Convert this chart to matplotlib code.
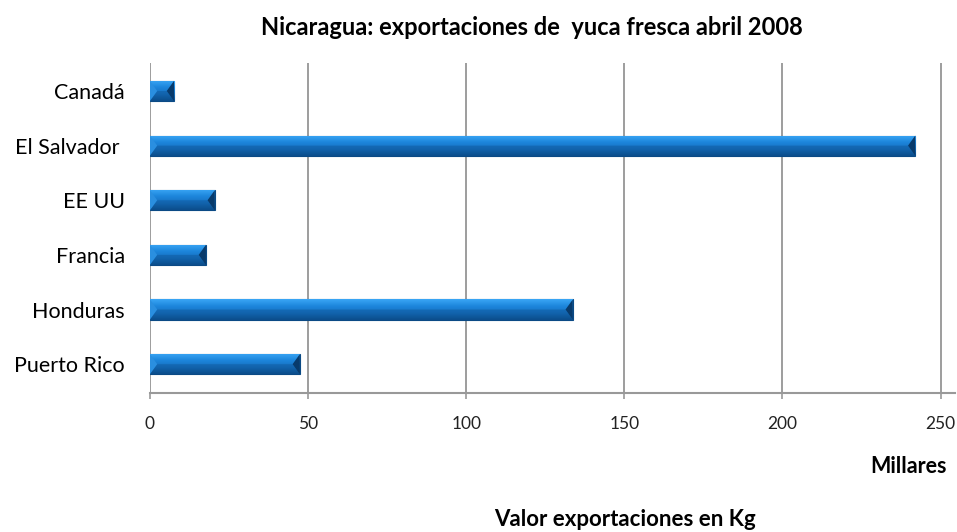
import numpy as np
import matplotlib
matplotlib.use("Agg")
import matplotlib.pyplot as plt
from matplotlib.colors import LinearSegmentedColormap
from matplotlib.patches import Polygon

plt.rcParams['font.family'] = ['Lato', 'DejaVu Sans']

paises = ["Canadá", "El Salvador ", "EE UU", "Francia", "Honduras", "Puerto Rico"]
valores = [7.6, 242.0, 20.5, 17.7, 133.7, 47.4]   # miles de kg
xticks = [0, 50, 100, 150, 200, 250]

fig = plt.figure(figsize=(9.57, 5.32), dpi=100)
ax = fig.add_axes([0.1567, 0.261, 0.841, 0.6203])

ypos = np.arange(len(paises))
alto = 0.37
bars = ax.barh(ypos, valores, height=alto, color="#1a7fd4", edgecolor="#0b4a85",
               linewidth=0.8, zorder=3)

# gradiente para el efecto 3D de Excel
cmap = LinearSegmentedColormap.from_list("bev", ["#3aa6f5", "#1d86dc", "#1670c0", "#0c4e8c"])
grad = np.linspace(0, 1, 64).reshape(-1, 1)
for b in bars:
    x0, y0 = b.get_x(), b.get_y()
    w, h = b.get_width(), b.get_height()
    im = ax.imshow(grad, cmap=cmap, aspect="auto", extent=[x0, x0 + w, y0 + h, y0],
                   zorder=4, interpolation="bilinear")
    im.set_clip_path(b)
    # extremos biselados
    dx = min(2.3, w / 3)
    ax.add_patch(Polygon([[x0 + w, y0], [x0 + w, y0 + h], [x0 + w - dx, y0 + h * 0.5]],
                         closed=True, color="#083a6b", zorder=5, lw=0))
    ax.add_patch(Polygon([[x0, y0], [x0, y0 + h], [x0 + dx, y0 + h * 0.5]],
                         closed=True, color="#2a8fe0", zorder=5, lw=0))
    ax.add_patch(Polygon([[x0, y0 + h], [x0 + w, y0 + h], [x0 + w - dx, y0 + h * 0.5],
                          [x0 + dx, y0 + h * 0.5]], closed=True, color="#0c4e8c",
                         alpha=0.35, zorder=5, lw=0))

ax.set_xlim(0, 254.5)
ax.set_ylim(5.53, -0.51)
ax.set_xticks(xticks)
ax.set_yticks(ypos)
ax.set_yticklabels(paises, fontsize=15.5)
ax.tick_params(axis="y", length=0, pad=18)
ax.tick_params(axis="x", length=4.5, width=1.2, color="#999999", pad=12, labelsize=12.5,
               labelcolor="#222222")
ax.grid(axis="x", color="#8c8c8c", linewidth=1.2, zorder=0)

for s in ["top", "right", "left"]:
    ax.spines[s].set_visible(False)
ax.spines["bottom"].set_color("#999999")
ax.spines["bottom"].set_linewidth(1.5)

fig.text(0.556, 0.949, "Nicaragua: exportaciones de  yuca fresca abril 2008",
         ha="center", va="center", fontsize=17, fontweight="bold")
fig.text(0.949, 0.124, "Millares", ha="center", va="center", fontsize=15.5, fontweight="bold")
fig.text(0.653, 0.023, "Valor exportaciones en Kg", ha="center", va="center",
         fontsize=16, fontweight="bold")

fig.savefig("out.png", dpi=100)
